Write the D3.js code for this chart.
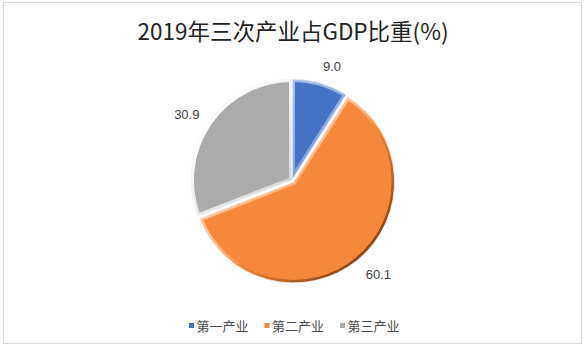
<!DOCTYPE html>
<html><head><meta charset="utf-8">
<script src="https://cdn.jsdelivr.net/npm/d3@7/dist/d3.min.js"></script>
<style>
html,body{margin:0;padding:0;background:#fff;}
svg{display:block;}
</style></head>
<body>
<script>
const title = "2019年三次产业占GDP比重(%)";
const categories = ["第一产业", "第二产业", "第三产业"];
const values = [9.0, 60.1, 30.9];
const colors = ["#4472C4", "#F5883A", "#ABABAB"];
const lightColors = ["#B8CCF0", "#FFE0C4", "#FFFFFF"];
const darkColors = ["#243F75", "#8A4515", "#5A5A5A"];

const W = 586, H = 348;
const cx = 292, cy = 180, R = 101;

const svg = d3.select("body").append("svg").attr("width", W).attr("height", H);

svg.append("rect").attr("x", 3.5).attr("y", 2.5).attr("width", 578).attr("height", 341)
  .attr("fill", "#fff").attr("stroke", "#D9D9D9").attr("stroke-width", 1);

svg.append("text").attr("x", 293).attr("y", 40).attr("text-anchor", "middle")
  .attr("font-family", "'Noto Sans CJK SC', sans-serif").attr("font-size", 22.5)
  .attr("fill", "#222").text(title);

const pie = d3.pie().sort(null).value(d => d)(values);
const arc = d3.arc().innerRadius(0).outerRadius(R);
const labelArc = d3.arc().innerRadius(R + 19).outerRadius(R + 19);

const defs = svg.append("defs");
const explode = [0, 2.5, 0];

const g = svg.append("g").attr("transform", `translate(${cx},${cy})`);

pie.forEach((p, i) => {
  const grad = defs.append("linearGradient").attr("id", "g" + i)
    .attr("gradientUnits", "userSpaceOnUse")
    .attr("x1", -R * 0.7).attr("y1", -R * 0.7).attr("x2", R * 0.7).attr("y2", R * 0.7);
  grad.append("stop").attr("offset", "0%").attr("stop-color", lightColors[i]);
  grad.append("stop").attr("offset", "45%").attr("stop-color", lightColors[i]).attr("stop-opacity", 0.6);
  grad.append("stop").attr("offset", "60%").attr("stop-color", colors[i]);
  grad.append("stop").attr("offset", "100%").attr("stop-color", darkColors[i]);

  const mid = (p.startAngle + p.endAngle) / 2;
  const dx = Math.sin(mid) * explode[i], dy = -Math.cos(mid) * explode[i];
  const sg = g.append("g").attr("transform", `translate(${dx},${dy})`);
  const d = arc(p);
  defs.append("clipPath").attr("id", "c" + i).append("path").attr("d", d);
  sg.append("path").attr("d", d).attr("fill", colors[i]);
  sg.append("path").attr("d", d).attr("fill", "none")
    .attr("stroke", `url(#g${i})`).attr("stroke-width", 6)
    .attr("clip-path", `url(#c${i})`);
  sg.append("path").attr("d", d).attr("fill", "none")
    .attr("stroke", "#fff").attr("stroke-width", 0.8).attr("stroke-linejoin", "round");
});

// data labels (outside end)
pie.forEach((p, i) => {
  const [lx, ly] = labelArc.centroid(p);
  svg.append("text")
    .attr("x", cx + lx + (lx >= 0 ? -2.5 : 6.5)).attr("y", cy + ly)
    .attr("dy", "0.5em")
    .attr("text-anchor", lx >= 0 ? "start" : "end")
    .attr("font-family", "'Liberation Sans', Arial, sans-serif").attr("font-size", 13)
    .attr("fill", "#404040").text(values[i].toFixed(1));
});

// legend
const legendX = [189, 264.5, 340];
categories.forEach((c, i) => {
  svg.append("rect").attr("x", legendX[i]).attr("y", 323).attr("width", 5).attr("height", 5)
    .attr("fill", colors[i]);
  svg.append("text").attr("x", legendX[i] + 7.5).attr("y", 331)
    .attr("font-family", "'Noto Sans CJK SC', sans-serif").attr("font-size", 13)
    .attr("fill", "#4a4a4a").text(c);
});
</script>
</body></html>
